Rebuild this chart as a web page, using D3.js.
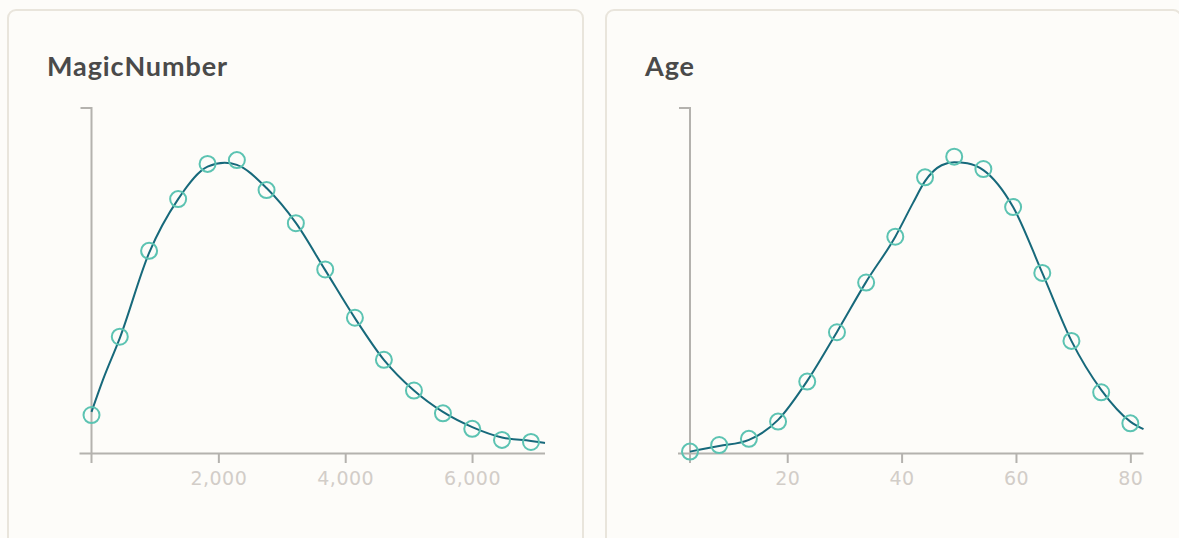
<!DOCTYPE html>
<html>
<head>
<meta charset="utf-8">
<script src="https://cdn.jsdelivr.net/npm/d3@7/dist/d3.min.js"></script>
<style>
  html, body { margin: 0; padding: 0; background: #fdfcf9; }
  svg { display: block; }
</style>
</head>
<body>
<svg id="chart" width="1179" height="538"></svg>
<script>
// ---- Data ----
const titles = ["MagicNumber", "Age"];

// MagicNumber: histogram points and density curve
const magicPointX = [0, 446, 908, 1366, 1830, 2292, 2760, 3222, 3685, 4153, 4610, 5084, 5541, 6003, 6472, 6929];
const magicPointY = [11.0, 33.7, 58.6, 73.6, 83.8, 84.9, 76.2, 66.6, 53.2, 39.2, 27.0, 18.1, 11.5, 7.0, 3.8, 3.2];
const magicCurveX = [0, 180, 446, 908, 1366, 1830, 2100, 2292, 2760, 3222, 3685, 4153, 4610, 5084, 5541, 6003, 6472, 6929, 7150];
const magicCurveY = [11.9, 21.2, 33.3, 58.0, 73.6, 83.0, 84.1, 83.5, 76.8, 66.7, 53.0, 39.1, 27.0, 18.1, 11.9, 7.5, 4.5, 3.5, 2.9];
const magicTicks = [2000, 4000, 6000];
const magicDomain = [0, 7150];

// Age: histogram points and density curve
const agePointX = [3, 8.1, 13.3, 18.4, 23.5, 28.7, 33.8, 38.9, 44.1, 49.2, 54.3, 59.5, 64.6, 69.7, 74.9, 80];
const agePointY = [0.4, 2.3, 4.1, 9.1, 20.7, 35.0, 49.4, 62.7, 79.9, 85.9, 82.3, 71.3, 52.2, 32.5, 17.6, 8.6];
const ageCurveX = [3, 8.1, 13.3, 18.4, 23.5, 28.7, 33.8, 38.9, 42.0, 44.1, 47.0, 49.2, 51.5, 54.3, 59.5, 64.6, 69.7, 74.9, 80, 82.3];
const ageCurveY = [0.4, 2.0, 3.8, 9.6, 20.9, 35.1, 49.6, 62.7, 72.5, 78.8, 83.4, 84.3, 84.0, 82.0, 71.3, 52.2, 32.5, 18.3, 9.1, 6.9];
const ageTicks = [20, 40, 60, 80];
const ageDomain = [3, 82.3];

const yDomain = [0, 100];

// ---- Layout ----
const svg = d3.select("#chart");
const panels = [
  { title: titles[0], cardX: 8, plotX: 91.5, px: magicPointX, py: magicPointY, cx: magicCurveX, cy: magicCurveY, ticks: magicTicks, domain: magicDomain },
  { title: titles[1], cardX: 606, plotX: 690, px: agePointX, py: agePointY, cx: ageCurveX, cy: ageCurveY, ticks: ageTicks, domain: ageDomain }
];
const plotW = 453.5;
const plotTop = 108, plotBottom = 453;
const axisColor = "#b4b2ae";

panels.forEach(p => {
  const g = svg.append("g");
  g.append("rect")
    .attr("x", p.cardX).attr("y", 10)
    .attr("width", 575).attr("height", 560)
    .attr("rx", 8).attr("ry", 8)
    .attr("fill", "#fdfcf9")
    .attr("stroke", "#e9e5dc")
    .attr("stroke-width", 2);

  g.append("text")
    .attr("x", p.cardX + 39).attr("y", 76)
    .attr("font-family", "Lato, sans-serif")
    .attr("font-weight", "bold")
    .attr("font-size", 27)
    .attr("letter-spacing", 0.9)
    .attr("fill", "#4a4a4a")
    .text(p.title);

  const x = d3.scaleLinear().domain(p.domain).range([p.plotX, p.plotX + plotW]);
  const y = d3.scaleLinear().domain(yDomain).range([plotBottom, plotTop]);

  // x axis
  const xAxis = d3.axisBottom(x).tickValues(p.ticks).tickSize(10).tickSizeOuter(0).tickFormat(d3.format(","));
  const xg = g.append("g").attr("transform", `translate(0,${plotBottom})`).call(xAxis);
  xg.select(".domain").attr("stroke", axisColor).attr("stroke-width", 2)
    .attr("d", `M${p.plotX - 12},0.5H${p.plotX + plotW}`);
  xg.selectAll(".tick line").attr("stroke", axisColor).attr("stroke-width", 2);
  xg.selectAll(".tick text")
    .attr("fill", "#d2cdc8")
    .attr("font-family", "DejaVu Sans, sans-serif")
    .attr("font-size", 19)
    .attr("letter-spacing", 0.5)
    .attr("dy", "1.0em");

  // y axis line with top tick
  const yAxis = d3.axisLeft(y).tickValues([]).tickSizeOuter(11);
  const yg = g.append("g").attr("transform", `translate(${x(p.domain[0])},0)`).call(yAxis);
  yg.select(".domain").attr("stroke", axisColor).attr("stroke-width", 2)
    .attr("d", `M-11,${y(yDomain[1])}H0V${plotBottom + 10}`);

  // density curve
  const curve = p.cx.map((d, i) => [d, p.cy[i]]);
  g.append("path")
    .datum(curve)
    .attr("fill", "none")
    .attr("stroke", "#17697b")
    .attr("stroke-width", 2)
    .attr("d", d3.line().x(d => x(d[0])).y(d => y(d[1])).curve(d3.curveMonotoneX));

  // histogram points
  const pts = p.px.map((d, i) => [d, p.py[i]]);
  g.selectAll("circle.pt").data(pts).enter().append("circle")
    .attr("class", "pt")
    .attr("cx", d => x(d[0])).attr("cy", d => y(d[1]))
    .attr("r", 8)
    .attr("fill", "none")
    .attr("stroke", "#5cc3b2")
    .attr("stroke-width", 2);
});
</script>
</body>
</html>
